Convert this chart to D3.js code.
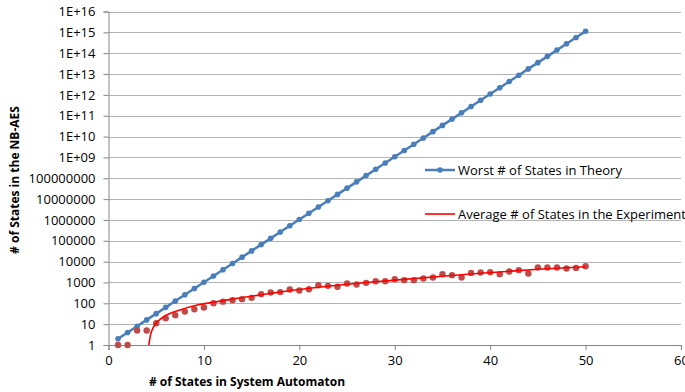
<!DOCTYPE html>
<html>
<head>
<meta charset="utf-8">
<script src="https://cdn.jsdelivr.net/npm/d3@7"></script>
<style>
  body { margin: 0; background: #fff; }
  svg text { font-family: "Open Sans", "Liberation Sans", sans-serif; fill: #000; }
</style>
</head>
<body>
<div id="chart"></div>
<script>
// x values for both series
const automatonStates = [1,2,3,4,5,6,7,8,9,10,11,12,13,14,15,16,17,18,19,20,
  21,22,23,24,25,26,27,28,29,30,31,32,33,34,35,36,37,38,39,40,
  41,42,43,44,45,46,47,48,49,50];

// worst case in theory
const worstStates = [2,4,8,16,32,64,128,256,512,1024,2048,4096,8192,16384,32768,65536,
  131072,262144,524288,1048576,2097152,4194304,8388608,16777216,33554432,67108864,
  134217728,268435456,536870912,1073741824,2147483648,4294967296,8589934592,
  17179869184,34359738368,68719476736,137438953472,274877906944,549755813888,
  1099511627776,2199023255552,4398046511104,8796093022208,17592186044416,
  35184372088832,70368744177664,140737488355328,281474976710656,562949953421312,
  1125899906842624];

const avgStates = [1,1,5,5,11,19,27,40,52,63,100,120,142,158,183,275,330,345,460,415,
  475,740,690,620,890,800,960,1150,1150,1440,1290,1290,1550,1740,2500,2240,1740,2880,3000,3100,
  2500,3370,3900,2700,5200,5200,5200,4700,5000,6000];

// trend line of the experiment
const trendX = [4.22,4.4,4.75,5.2,5.8,6.5,7.5,9.3,11,12.8,15,20,24.2,30,35,39,45,50];
const trendY = [1,3,7.6,14,23,33,48,83,112,155,220,460,755,1300,2000,2750,4300,5700];

const yTicks = [1,10,100,1000,10000,100000,1000000,10000000,100000000,
  1e9,1e10,1e11,1e12,1e13,1e14,1e15,1e16];
const xTicks = [0,10,20,30,40,50,60];

const width = 685, height = 392;
const plotLeft = 108.5, plotRight = 681, plotTop = 11.5, plotBottom = 345;

const svg = d3.select('#chart').append('svg')
  .attr('width', width)
  .attr('height', height);

const x = d3.scaleLinear().domain([0, 60]).range([plotLeft, plotRight]);
const y = d3.scaleLog().domain([1, 1e16]).range([plotBottom, plotTop]);

function yLabel(v) {
  return v >= 1e9 ? '1E+' + d3.format('02')(Math.round(Math.log10(v))) : String(v);
}

// horizontal grid
svg.append('g')
  .selectAll('line')
  .data(yTicks.slice(1))
  .enter().append('line')
  .attr('x1', plotLeft).attr('x2', plotRight)
  .attr('y1', d => Math.round(y(d)) + 0.5).attr('y2', d => Math.round(y(d)) + 0.5)
  .attr('stroke', '#b3b3b3').attr('stroke-width', 1);

// y axis
const yAxis = svg.append('g')
  .attr('transform', 'translate(' + plotLeft + ',0)')
  .call(d3.axisLeft(y).tickValues(yTicks).tickFormat(yLabel).tickSize(5).tickPadding(8));
yAxis.selectAll('text').style('font-size', '13px');

// x axis
const xAxis = svg.append('g')
  .attr('transform', 'translate(0,' + plotBottom + ')')
  .call(d3.axisBottom(x).tickValues(xTicks).tickSize(5).tickPadding(6));
xAxis.selectAll('text').style('font-size', '13px');

svg.selectAll('.domain, .tick line').attr('stroke', '#868686');

// worst series
const worst = automatonStates.map((d, i) => ({x: d, y: worstStates[i]}));
svg.append('path')
  .datum(worst)
  .attr('fill', 'none')
  .attr('stroke', '#4a7ebb')
  .attr('stroke-width', 2.5)
  .attr('d', d3.line().x(d => x(d.x)).y(d => y(d.y)));
svg.append('g')
  .selectAll('circle')
  .data(worst)
  .enter().append('circle')
  .attr('cx', d => x(d.x)).attr('cy', d => y(d.y))
  .attr('r', 2.8)
  .attr('fill', '#4a7ebb');

// experiment dots
const avg = automatonStates.map((d, i) => ({x: d, y: avgStates[i]}));
svg.append('g')
  .selectAll('circle')
  .data(avg)
  .enter().append('circle')
  .attr('cx', d => x(d.x)).attr('cy', d => y(d.y))
  .attr('r', 3.2)
  .attr('fill', '#be4b48');

// trend line
const trend = trendX.map((d, i) => ({x: d, y: trendY[i]}));
svg.append('path')
  .datum(trend)
  .attr('fill', 'none')
  .attr('stroke', '#ff0000')
  .attr('stroke-width', 1.6)
  .attr('d', d3.line().curve(d3.curveMonotoneX).x(d => x(d.x)).y(d => y(d.y)));

// legend
const legend = svg.append('g');
legend.append('line')
  .attr('x1', 425).attr('x2', 455).attr('y1', 170).attr('y2', 170)
  .attr('stroke', '#4a7ebb').attr('stroke-width', 2.5);
legend.append('circle')
  .attr('cx', 440).attr('cy', 170).attr('r', 2.8).attr('fill', '#4a7ebb');
legend.append('text')
  .attr('x', 458).attr('y', 174.5)
  .style('font-size', '13px')
  .text('Worst # of States in Theory');
legend.append('line')
  .attr('x1', 425).attr('x2', 455).attr('y1', 214).attr('y2', 214)
  .attr('stroke', '#ff0000').attr('stroke-width', 1.6);
legend.append('text')
  .attr('x', 458).attr('y', 218.5)
  .style('font-size', '13px')
  .text('Average # of States in the Experiment');

// axis titles
svg.append('text')
  .attr('x', 247).attr('y', 386)
  .attr('text-anchor', 'middle')
  .style('font-size', '12px').style('font-weight', 'bold')
  .text('# of States in System Automaton');
svg.append('text')
  .attr('transform', 'translate(19,180) rotate(-90)')
  .attr('text-anchor', 'middle')
  .style('font-size', '12px').style('font-weight', 'bold')
  .text('# of States in the NB-AES');
</script>
</body>
</html>
